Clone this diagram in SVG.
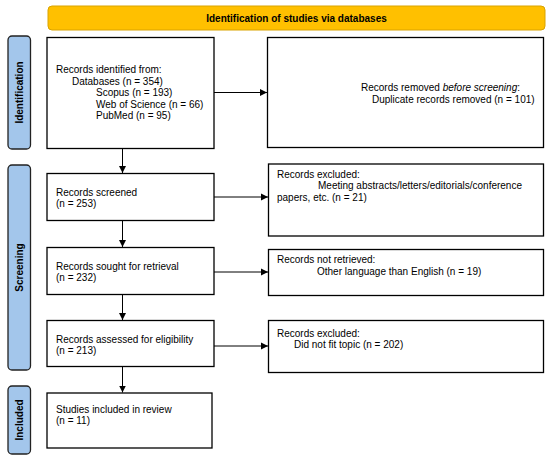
<svg xmlns="http://www.w3.org/2000/svg" width="550" height="458" viewBox="0 0 550 458">
<defs>
<marker id="ah" markerWidth="8" markerHeight="8" refX="7" refY="4" orient="auto" markerUnits="userSpaceOnUse">
<path d="M0,0.5 L7,4 L0,7.5 Z" fill="#000"/>
</marker>
<style>
.box{fill:#fff;stroke:#000;stroke-width:1.3}
.side{fill:#A3C6EB;stroke:#222;stroke-width:1.3}
.hdr{fill:#FFC000;stroke:#D9A300;stroke-width:1}
text{font-family:"Liberation Sans",Arial,sans-serif;font-size:10px;fill:#000}
.b{font-weight:bold}
.conn line{stroke:#000;stroke-width:1}
</style>
</defs>
<rect width="550" height="458" fill="#fff"/>
<g id="header">
<rect class="hdr" x="48" y="6" width="497" height="24" rx="4"/>
<text class="b" x="296.5" y="21.5" text-anchor="middle">Identification of studies via databases</text>
</g>
<g id="side-identification">
<rect class="side" x="8" y="36" width="22.5" height="113" rx="4"/>
<text class="b" transform="translate(22.5,92.5) rotate(-90)" text-anchor="middle">Identification</text>
</g>
<g id="side-screening">
<rect class="side" x="8" y="165" width="22.5" height="205" rx="4"/>
<text class="b" transform="translate(22.5,267.5) rotate(-90)" text-anchor="middle">Screening</text>
</g>
<g id="side-included">
<rect class="side" x="8" y="386" width="22.5" height="68" rx="4"/>
<text class="b" transform="translate(22.5,420) rotate(-90)" text-anchor="middle">Included</text>
</g>
<g id="identified">
<rect class="box" x="47" y="37.5" width="167" height="111"/>
<text x="56" y="73">Records identified from:</text>
<text x="72" y="84.5">Databases (n = 354)</text>
<text x="96" y="96">Scopus (n = 193)</text>
<text x="96" y="107.5">Web of Science (n = 66)</text>
<text x="96" y="119">PubMed (n = 95)</text>
</g>
<g id="removed">
<rect class="box" x="267.5" y="37.5" width="276" height="110"/>
<text x="361" y="91">Records removed <tspan font-style="italic">before screening</tspan>:</text>
<text x="372" y="102.5">Duplicate records removed (n = 101)</text>
</g>
<g id="screened">
<rect class="box" x="47" y="173.5" width="167" height="47"/>
<text x="56" y="195.5">Records screened</text>
<text x="56" y="207">(n = 253)</text>
</g>
<g id="excluded1">
<rect class="box" x="268.5" y="164" width="275" height="72"/>
<text x="277" y="177.5">Records excluded:</text>
<text x="318" y="189">Meeting abstracts/letters/editorials/conference</text>
<text x="277" y="200.5">papers, etc. (n = 21)</text>
</g>
<g id="sought">
<rect class="box" x="47" y="247.5" width="167" height="47"/>
<text x="56" y="269.5">Records sought for retrieval</text>
<text x="56" y="281">(n = 232)</text>
</g>
<g id="notretrieved">
<rect class="box" x="268.5" y="249.5" width="275" height="46"/>
<text x="277" y="263">Records not retrieved:</text>
<text x="317" y="274.5">Other language than English (n = 19)</text>
</g>
<g id="assessed">
<rect class="box" x="47" y="320.5" width="167" height="46"/>
<text x="56" y="342.5">Records assessed for eligibility</text>
<text x="56" y="354">(n = 213)</text>
</g>
<g id="excluded2">
<rect class="box" x="268.5" y="320.5" width="275" height="52"/>
<text x="277" y="336.5">Records excluded:</text>
<text x="294" y="348">Did not fit topic (n = 202)</text>
</g>
<g id="included">
<rect class="box" x="47" y="393" width="165" height="55"/>
<text x="56" y="412.5">Studies included in review</text>
<text x="56" y="424">(n = 11)</text>
</g>
<g class="conn" id="connectors">
<line x1="214" y1="92.5" x2="267" y2="92.5" marker-end="url(#ah)"/>
<line x1="122.5" y1="148.5" x2="122.5" y2="173" marker-end="url(#ah)"/>
<line x1="214" y1="197" x2="268" y2="197" marker-end="url(#ah)"/>
<line x1="122.5" y1="221" x2="122.5" y2="247" marker-end="url(#ah)"/>
<line x1="214" y1="272" x2="268" y2="272" marker-end="url(#ah)"/>
<line x1="122.5" y1="294.5" x2="122.5" y2="320" marker-end="url(#ah)"/>
<line x1="214" y1="346" x2="268" y2="346" marker-end="url(#ah)"/>
<line x1="122.5" y1="366.5" x2="122.5" y2="392.5" marker-end="url(#ah)"/>
</g>
</svg>
